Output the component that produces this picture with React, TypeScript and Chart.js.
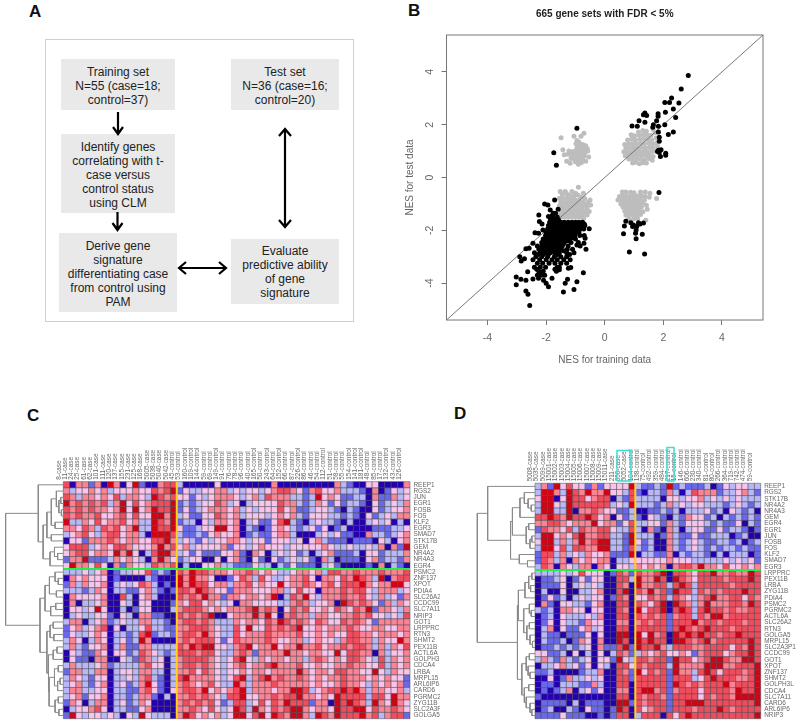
import React, { useEffect, useRef } from "react";
import Chart from "chart.js/auto";

const FONT = "'Liberation Sans', Arial, sans-serif";

// ---- Panel B data
const xTickValues = [-4, -2, 0, 2, 4];
const yTickValues = [-4, -2, 0, 2, 4];
const diagonal = [[-5.4, -5.4], [5.4, 5.4]];
const blackOutliers = [
  [2.85,3.87],[2.61,3.35],[2.28,3.01],[2.05,2.84],[2.21,2.84],[2.53,2.82],[2.34,2.6],[2.07,2.47],[2.42,2.27],
  [1.37,2.44],[1.32,2.38],[1.43,2.35],[1.82,2.42],[1.82,2.32],[1.17,2.15],[1.37,2.09],[1.77,2.15],[0.93,1.95],
  [1.11,1.94],[1.66,2.0],[1.64,1.9],[1.83,1.94],[2.05,2.0],[1.83,1.72],[2.34,1.72],[2.17,1.63],[1.86,1.53],
  [1.86,1.37],[1.92,1.05],[1.83,1.03],[1.86,0.95],[2.08,0.92],[2.08,0.84],[1.9,0.8],[1.8,0.99],
  [-0.95,1.87],[-1.74,0.94],[-1.65,0.46],
  [1.85,-0.57],[0.72,-1.66],[0.89,-1.71],[0.98,-1.8],[1.15,-1.71],[1.32,-1.72],[0.67,-1.84],[0.95,-1.86],[1.09,-1.86],
  [1.2,-1.76],[1.07,-1.99],[1.05,-2.11],[0.64,-2.13],[1.28,-2.15],[1.07,-2.32],[0.84,-2.82],[1.36,-2.9],
  [-2.56,-4.85],[-2.62,-4.42],[-2.69,-4.3],[-3.02,-4.06],[-3.02,-3.77],[-2.86,-3.86],[-2.69,-3.89],[-2.63,-3.57],
  [-2.9,-3.0],[-2.85,-3.16],[-2.74,-3.08],[-2.69,-2.7],[-2.58,-2.68],[-2.45,-2.49],[-2.38,-2.09],[-2.26,-2.11],
  [-2.23,-1.67],[-2.14,-1.76],[-2.25,-1.42],[-2.05,-1.0],[-1.94,-1.04],[-1.71,-0.85],[-1.86,-1.23],[-1.75,-1.35],
  [-1.59,-1.2],[-1.92,-1.48],[-2.11,-1.99],[-2.45,-3.85],[-2.26,-3.82],[-2.09,-3.89],[-1.92,-4.14],[-2.0,-4.01],
  [-1.8,-3.82],[-1.41,-4.34],[-1.05,-4.24],[-1.35,-4.01],[-1.27,-3.86],[-0.95,-3.95],[-0.73,-3.61],[-1.24,-3.44],
  [-1.16,-3.41],[-0.64,-2.72],[-0.71,-2.49],[-0.67,-2.3],[-0.84,-2.6],[-0.95,-2.56],[-0.53,-1.94],
];
const blackCloud = [
  [-1.75,-1.55],[-1.62,-1.5],[-1.78,-1.42],[-1.68,-1.35],[-1.85,-1.6],[-1.7,-1.6],[-1.58,-1.6],[-1.82,-1.5],
  [-1.88,-1.7],[-1.75,-1.7],[-1.62,-1.7],[-1.5,-1.7],[-1.38,-1.7],[-1.25,-1.7],[-1.12,-1.7],[-1.0,-1.7],[-0.88,-1.7],[-0.76,-1.7],
  [-1.82,-1.76],[-1.69,-1.76],[-1.56,-1.76],[-1.44,-1.76],[-1.31,-1.76],[-1.18,-1.76],[-1.06,-1.76],[-0.94,-1.76],[-0.82,-1.76],[-0.7,-1.76],
  [-1.92,-1.82],[-1.8,-1.82],[-1.67,-1.82],[-1.55,-1.82],[-1.42,-1.82],[-1.3,-1.82],[-1.17,-1.82],[-1.05,-1.82],[-0.92,-1.82],[-0.8,-1.82],[-0.68,-1.82],
  [-1.86,-1.89],[-1.73,-1.89],[-1.61,-1.89],[-1.49,-1.89],[-1.36,-1.89],[-1.24,-1.89],[-1.11,-1.89],[-0.99,-1.89],[-0.86,-1.89],[-0.74,-1.89],
  [-1.95,-1.95],[-1.82,-1.95],[-1.7,-1.95],[-1.58,-1.95],[-1.45,-1.95],[-1.32,-1.95],[-1.2,-1.95],[-1.08,-1.95],[-0.95,-1.95],[-0.83,-1.95],[-0.72,-1.95],
  [-1.9,-2.02],[-1.77,-2.02],[-1.65,-2.02],[-1.52,-2.02],[-1.39,-2.02],[-1.26,-2.02],[-1.14,-2.02],[-1.01,-2.02],[-0.89,-2.02],
  [-2.0,-2.08],[-1.88,-2.08],[-1.75,-2.08],[-1.62,-2.08],[-1.5,-2.08],[-1.38,-2.08],[-1.25,-2.08],[-1.12,-2.08],[-1.0,-2.08],[-0.88,-2.08],
  [-1.95,-2.14],[-1.83,-2.14],[-1.7,-2.14],[-1.58,-2.14],[-1.45,-2.14],[-1.33,-2.14],[-1.2,-2.14],[-1.07,-2.14],
  [-2.02,-2.2],[-1.9,-2.2],[-1.78,-2.2],[-1.65,-2.2],[-1.52,-2.2],[-1.4,-2.2],[-1.28,-2.2],[-1.15,-2.2],[-1.02,-2.2],[-0.85,-2.2],[-0.7,-2.2],
  [-1.96,-2.27],[-1.84,-2.27],[-1.71,-2.27],[-1.59,-2.27],[-1.46,-2.27],[-1.33,-2.27],[-1.1,-2.27],
  [-2.1,-2.33],[-1.98,-2.33],[-1.85,-2.33],[-1.72,-2.33],[-1.6,-2.33],[-1.48,-2.33],[-1.35,-2.33],[-1.2,-2.33],[-1.0,-2.33],
  [-2.04,-2.4],[-1.92,-2.4],[-1.8,-2.4],[-1.67,-2.4],[-1.54,-2.4],[-1.42,-2.4],[-1.28,-2.4],
  [-2.15,-2.46],[-2.02,-2.46],[-1.9,-2.46],[-1.78,-2.46],[-1.65,-2.46],[-1.52,-2.46],[-1.38,-2.46],[-1.15,-2.46],[-0.9,-2.46],
  [-2.08,-2.53],[-1.95,-2.53],[-1.83,-2.53],[-1.7,-2.53],[-1.56,-2.53],[-1.42,-2.53],
  [-2.3,-2.6],[-2.15,-2.6],[-2.0,-2.6],[-1.88,-2.6],[-1.75,-2.6],[-1.6,-2.6],[-1.45,-2.6],[-1.25,-2.6],
  [-2.25,-2.72],[-2.1,-2.72],[-1.95,-2.72],[-1.8,-2.72],[-1.65,-2.72],[-1.5,-2.72],[-1.28,-2.72],[-1.1,-2.72],
  [-2.18,-2.78],[-2.02,-2.78],[-1.88,-2.78],[-1.72,-2.78],[-1.58,-2.78],[-1.4,-2.78],
  [-2.4,-2.85],[-2.2,-2.85],[-2.05,-2.85],[-1.85,-2.85],[-1.7,-2.85],[-1.55,-2.85],[-1.3,-2.85],[-1.05,-2.85],
  [-2.28,-2.92],[-2.1,-2.92],[-1.92,-2.92],[-1.62,-2.92],[-1.2,-2.92],
  [-2.35,-3.0],[-2.15,-3.0],[-1.95,-3.0],[-1.72,-3.0],[-1.5,-3.0],[-1.3,-3.0],
  [-2.45,-3.12],[-2.22,-3.12],[-2.0,-3.12],[-1.8,-3.12],[-1.62,-3.12],[-1.4,-3.12],[-1.18,-3.12],
  [-2.3,-3.25],[-2.12,-3.25],[-1.9,-3.25],[-1.7,-3.25],[-1.5,-3.25],[-1.3,-3.25],
  [-2.4,-3.4],[-2.2,-3.4],[-2.02,-3.4],[-1.62,-3.4],[-1.55,-3.4],[-2.32,-3.48],[-1.7,-3.48],
  [-2.25,-3.55],[-2.1,-3.55],[-1.65,-3.55],[-1.55,-3.5],[-2.3,-3.7],[-2.15,-3.7],[-2.05,-3.7],[-2.2,-3.62],
];
const grayLowerLeft = [
  [-0.9,-0.37],[-1.52,-0.53],[-1.35,-0.53],[-1.12,-0.53],[-1.0,-0.6],[-0.73,-0.6],[-0.5,-0.85],[-0.48,-1.04],[-0.53,-1.29],[-0.6,-1.42],
  [-1.45,-0.65],[-1.3,-0.62],[-1.18,-0.68],[-1.05,-0.72],[-0.92,-0.66],[-0.82,-0.75],[-0.68,-0.8],[-0.58,-0.95],
  [-1.55,-0.8],[-1.42,-0.8],[-1.28,-0.78],[-1.15,-0.84],[-1.02,-0.85],[-0.88,-0.86],[-0.75,-0.92],[-0.65,-1.05],
  [-1.5,-0.95],[-1.38,-0.94],[-1.25,-0.93],[-1.12,-0.98],[-0.98,-0.98],[-0.85,-1.0],[-0.72,-1.05],[-0.6,-1.15],
  [-1.55,-1.08],[-1.42,-1.08],[-1.3,-1.07],[-1.18,-1.1],[-1.05,-1.1],[-0.92,-1.12],[-0.78,-1.15],[-0.66,-1.25],
  [-1.48,-1.22],[-1.35,-1.2],[-1.22,-1.23],[-1.1,-1.24],[-0.97,-1.25],[-0.85,-1.25],[-0.72,-1.3],[-0.62,-1.35],
  [-1.5,-1.36],[-1.38,-1.35],[-1.25,-1.37],[-1.12,-1.37],[-1.0,-1.38],[-0.88,-1.38],[-0.76,-1.42],
  [-1.45,-1.5],[-1.32,-1.5],[-1.2,-1.5],[-1.07,-1.5],[-0.95,-1.5],[-0.82,-1.5],[-0.72,-1.55],
];
const grayTopLeft = [
  [-1.49,1.51],[-1.05,1.56],[-0.71,1.68],[-0.81,1.56],[-1.43,1.05],[-1.38,0.86],[-1.18,0.54],[-1.3,0.62],[-0.95,1.4],[-0.88,1.35],
  [-0.98,1.28],[-0.88,1.22],[-0.75,1.25],[-0.65,1.2],[-0.6,1.1],[-0.95,1.12],[-0.8,1.12],[-0.7,1.08],[-1.22,1.0],[-1.1,0.98],[-1.0,1.0],
  [-0.9,1.0],[-0.8,1.0],[-0.68,0.95],[-0.58,1.0],[-1.25,0.88],[-1.12,0.86],[-1.02,0.88],[-0.92,0.86],[-0.8,0.88],[-0.7,0.82],[-0.55,0.78],
  [-1.15,0.72],[-1.05,0.72],[-0.95,0.74],[-0.85,0.75],[-0.75,0.68],[-1.0,0.6],[-0.9,0.62],[-0.8,0.56],[-0.9,0.5],[-0.65,0.62],
];
const grayTopRight = [
  [1.15,1.72],[1.3,1.78],[1.42,1.75],[1.65,1.82],
  [0.9,1.62],[1.02,1.58],[1.18,1.6],[1.32,1.62],[1.45,1.6],[1.58,1.6],[1.72,1.7],
  [0.78,1.42],[0.92,1.45],[1.05,1.42],[1.2,1.45],[1.33,1.45],[1.47,1.45],[1.6,1.42],[1.75,1.5],
  [0.68,1.25],[0.82,1.28],[0.95,1.28],[1.08,1.27],[1.22,1.3],[1.35,1.28],[1.5,1.3],[1.63,1.28],[1.76,1.3],
  [0.72,1.12],[0.85,1.13],[0.98,1.12],[1.12,1.12],[1.25,1.14],[1.38,1.12],[1.52,1.14],[1.65,1.12],[1.8,1.18],
  [0.65,0.98],[0.78,0.98],[0.92,0.97],[1.05,0.98],[1.18,0.98],[1.32,0.97],[1.45,0.98],[1.6,0.98],[1.72,1.0],
  [0.7,0.82],[0.84,0.84],[0.98,0.84],[1.1,0.83],[1.25,0.84],[1.38,0.83],[1.5,0.85],[1.65,0.8],
  [0.82,0.7],[0.95,0.7],[1.08,0.68],[1.22,0.7],[1.35,0.66],[1.5,0.72],[1.62,0.65],
  [0.95,0.55],[1.05,0.58],[1.18,0.52],[1.3,0.56],[1.42,0.55],
];
const grayLowerRight = [
  [0.6,-0.55],[0.72,-0.55],[0.88,-0.56],[1.0,-0.58],[1.22,-0.55],[1.38,-0.55],[1.54,-0.6],
  [0.5,-0.72],[0.62,-0.7],[0.75,-0.7],[0.88,-0.72],[1.0,-0.72],[1.12,-0.7],[1.25,-0.7],[1.38,-0.72],[1.52,-0.75],[1.77,-0.8],
  [0.45,-0.85],[0.58,-0.85],[0.7,-0.85],[0.83,-0.86],[0.97,-0.86],[1.1,-0.86],[1.22,-0.85],[1.35,-0.86],
  [0.55,-1.0],[0.68,-0.98],[0.8,-1.0],[0.92,-1.0],[1.05,-1.0],[1.18,-1.0],[1.3,-0.98],[1.42,-1.05],
  [0.62,-1.12],[0.75,-1.14],[0.88,-1.14],[1.0,-1.14],[1.12,-1.14],[1.25,-1.12],[1.45,-1.2],
  [0.68,-1.27],[0.8,-1.28],[0.92,-1.28],[1.05,-1.28],[1.18,-1.26],[1.3,-1.3],
  [0.72,-1.42],[0.85,-1.42],[0.98,-1.42],[1.1,-1.42],[1.22,-1.4],[1.0,-1.55],[0.82,-1.55],[1.12,-1.55],[1.4,-1.62],[0.9,-1.62],
];

// ---- Heatmap palette: 0 navy ... 6 dark red
const palette = ["#2400b0", "#6a68ea", "#b8b8f6", "#f8c4ea", "#fb8494", "#f04c5c", "#d00414"];

// ---- Panel C data
const colsC = ["8-case","11-case","24-case","25-case","61-case","62-case","101-case","111-case","120-case","137-case","155-case","231-case","125-case","168-case","5005-case","5038-case","5040-case","5042-case",
  "45-control","53-control","160-control","109-control","144-control","59-control","69-control","149-control","91-control","76-control","78-control","96-control","40-control","165-control","50-control","243-control","64-control","152-control","66-control","87-control","226-control","86-control","46-control","54-control","112-control","51-control","58-control","55-control","154-control","141-control","181-control","48-control","85-control","17-control","132-control","43-control","126-control"];
const genesC = ["REEP1","RGS2","JUN","EGR1","FOSB","FOS","KLF2","EGR3","SMAD7","STK17B","GEM","NR4A2","NR4A3","EGR4","PSMC2","ZNF137","XPOT","PDIA4","SLC26A2","CCDC99","SLC7A11","NRIP3","GOT1","LRPPRC","RTN3","SHMT2","PEX11B","ACTL6A","GOLPH3L","CDCA4","LRBA","MRPL15","ARL6IP6","CARD6","PGRMC2","ZYG11B","SLC2A3P1","GOLGA5"];
const cellsC = [
  "504414064036100455"+"2000003"+"000000004000000000421003300004",
  "423343423334335456"+"1322334"+"423233234554314533422210401323",
  "542443435244326545"+"3313234"+"443234254442212634311220411423",
  "645454524635345556"+"1212335"+"423023333544212431312210312324",
  "545454434636346556"+"1312344"+"434232333534112332102100312334",
  "545445334535336646"+"2311335"+"434233323434213332212103123244",
  "622435344534226546"+"1220324"+"434023113562102322102002323020",
  "443542545346226556"+"3112336"+"634021013432123130120000111223",
  "234532455344206665"+"2112134"+"334012113442000232311004221234",
  "033144454344335564"+"2321323"+"344323313332303421110111032034",
  "355523435543334645"+"3423333"+"413323433323333343223223240416",
  "345534436463025664"+"2313111"+"334104302323120234111203312224",
  "144611124343204643"+"1233003"+"034103103123231042011103412214",
  "364435304143325445"+"0200334"+"221113220213111023100001040210",
  "222323401223351210"+"5465544"+"434454343223443425544544454445",
  "043433301000021000"+"6464430"+"013542532234453044354654260455",
  "142433402323542010"+"6465534"+"424453433634454345355564344663",
  "222124302211342101"+"5546543"+"314443334423533044454553244423",
  "043333400520342000"+"5454644"+"144344346025463244454453242314",
  "040223400320330001"+"4355343"+"230443333224542334065454314243",
  "033236300201330002"+"4555434"+"344456454035453343543546144324",
  "023223310320441100"+"5454560"+"034446463045442443344545332325",
  "244023412322442210"+"4554542"+"224344354654543543354543144444",
  "134234503022352211"+"4455543"+"225363354545633434445433443344",
  "132234302212561221"+"4554643"+"225344454444533434335544344434",
  "243024302312640000"+"4545553"+"135444454334423433245544243364",
  "242133402411442222"+"5465663"+"324563446344644534454554242435",
  "032114303312543212"+"5554553"+"224541444464434433635544042334",
  "031104400321542302"+"4555543"+"235632434434424543435543252434",
  "242223412222453302"+"4554543"+"234534456444533433445443352434",
  "144224402332442202"+"4453543"+"233434434444643443554433632433",
  "243213302232452102"+"5644443"+"235624564544543434454443434331",
  "234213402312463102"+"4543453"+"226424445444443433454432434341",
  "244223302211453103"+"4554634"+"345624443446652345565642443342",
  "234133402212441020"+"4454543"+"255633445455644343655552553644",
  "143024402312430000"+"4545453"+"125523535465551440656542643643",
  "023345302211340000"+"4454353"+"236526435456643443655663544543",
  "163233232032632220"+"4653434"+"236635636546642654655564524551",
];

// ---- Panel D data
const colsD = ["5008-case","5035-case","5099-case","15001-case","15002-case","15003-case","15004-case","15005-case","15006-case","15007-case","15008-case","15009-case","15011-case","211-case","650-case","5052-case",
  "104-control","138-control","75-control","492-control","359-control","484-control","217-control","15-control","146-control","606-control","230-control","340-control","81-control","80-control","266-control","364-control","719-control","742-control","474-control","59-control"];
const genesD = ["REEP1","RGS2","STK17B","NR4A2","NR4A3","GEM","EGR4","EGR1","JUN","FOSB","FOS","KLF2","SMAD7","EGR3","LRPPRC","PEX11B","LRBA","ZYG11B","PDIA4","PSMC2","PGRMC2","ACTL6A","SLC26A2","RTN3","GOLGA5","MRPL15","SLC2A3P1","CCDC99","GOT1","XPOT","ZNF137","SHMT2","GOLPH3L","CDCA4","SLC7A11","CARD6","ARL6IP6","NRIP3"];
const cellsD = [
  "241635331413"+"3336"+"21121612111201323322",
  "266426546446"+"3325"+"10221420254441223421",
  "366036553455"+"0215"+"22220332334232323222",
  "266326555555"+"2326"+"22212423233222123212",
  "266226044543"+"3112"+"00112120222312032120",
  "556546556534"+"0312"+"10321021433120212121",
  "445543444634"+"4135"+"22331421333212113021",
  "154435254455"+"3225"+"20410420233113122101",
  "266343564455"+"2216"+"22201421131122201200",
  "366242464566"+"2216"+"31200421232112212012",
  "266352554466"+"2215"+"21200421232121221211",
  "155242324334"+"1116"+"02211402122102022201",
  "154240434344"+"0223"+"33333433322222323231",
  "254043244043"+"0332"+"43434045546443533434",
  "222232353330"+"1541"+"54456055435564454465",
  "011230131330"+"0552"+"64465065435555455565",
  "011130232320"+"0540"+"64455256525555545555",
  "020030022340"+"0560"+"54645165525454555655",
  "013120232330"+"1540"+"33545254324564455354",
  "041033221340"+"0550"+"54356065424644455465",
  "212044330330"+"0540"+"63556056525655454455",
  "012032223240"+"0550"+"54545145525466455555",
  "013032214330"+"0440"+"45455155564554555455",
  "024031134230"+"0550"+"55555156545655545555",
  "021101113030"+"0660"+"63645065656554556555",
  "021120143040"+"0650"+"65655066545645555565",
  "011212123041"+"1561"+"65564255544555535465",
  "331120302030"+"2541"+"24345334314555345565",
  "242142123033"+"1632"+"55455165534566544665",
  "022342313032"+"0553"+"54555264444666445556",
  "112000012240"+"0541"+"63545164425653555456",
  "003014223230"+"0551"+"55555155523565554456",
  "011022211420"+"0550"+"55555165454555645556",
  "010124023130"+"0440"+"56645145553555546556",
  "100000000000"+"0550"+"54554155553545546666",
  "011110201110"+"0661"+"54555155666555555556",
  "012002103110"+"1650"+"53455155545556545555",
  "111131110010"+"1550"+"25550535655555555556",
];

// ---- Dendrograms: nested [height, upper, lower]; L is a leaf, leaves follow row order
const L = 0;
const treeC = [9.15,
  [3.97, L, [3.2,
    [2.6, [1.9, [1.1, L, [0.7, [0.4, L, L], [0.3, L, L]]], [1.3, L, L]], [1.9, L, L]],
    [2.1, [1.4, L, [0.9, L, L]], L]]],
  [3.7,
    [2.9, [2.2, [1.3, L, [0.8, L, L]], [1.1, L, L]], [2.0, [1.2, L, L], L]],
    [2.6, [2.1, [1.6, L, L], [1.5, L, L]],
      [2.35, [1.6, [1.0, L, L], L],
        [2.25, [1.4, [0.8, L, L], [0.9, [0.5, L, L], L]], [1.3, [0.8, L, L], [0.7, L, L]]]]]]];
const treeD = [9.2,
  [7.55, L, [3.9,
    [3.6, [2.4, [1.7, L, [1.1, L, [0.6, L, L]]], L], [1.4, [1.0, L, L], [0.8, [0.5, L, L], L]]],
    [2.5, L, [1.2, L, L]]]],
  [2.8,
    [2.65, [1.6, [1.0, [0.5, L, L], [0.7, L, L]], L],
      [1.8, [0.9, L, [0.6, L, L]], [1.3, [0.9, L, L], [0.8, L, [0.4, L, L]]]]],
    [2.1, [1.4, [0.9, L, L], [1.1, L, [0.8, L, L]]],
      [1.7, [1.0, L, L], [1.4, L, [0.8, L, [0.5, L, L]]]]]]];

// ---- Cyan highlight boxes on D, in column / row units
const highlightD = [
  [[12.58, -0.87], [12.58, -5.8], [14.8, -5.8], [14.8, -0.87], [12.58, -0.87]],
  [[20.55, -0.87], [20.55, -6.3], [21.67, -6.3], [21.67, -0.87], [20.55, -0.87]],
];

// ---- Panel A text
const flowBoxes = [
  { left: 61, top: 59, w: 114, h: 51, textTop: 65, lines: ["Training set", "N=55 (case=18;", "control=37)"] },
  { left: 231, top: 59, w: 108, h: 51, textTop: 65, lines: ["Test set", "N=36 (case=16;", "control=20)"] },
  { left: 61, top: 134, w: 114, h: 79, textTop: 140, lines: ["Identify genes", "correlating with t-", "case versus", "control status", "using CLM"] },
  { left: 59, top: 233, w: 118, h: 79, textTop: 239, lines: ["Derive gene", "signature", "differentiating case", "from control using", "PAM"] },
  { left: 231, top: 239, w: 108, h: 65, textTop: 244, lines: ["Evaluate", "predictive ability", "of gene", "signature"] },
];
const panelLetters = [
  { t: "A", left: 29, top: 3 },
  { t: "B", left: 408, top: 2 },
  { t: "C", left: 27, top: 407 },
  { t: "D", left: 454, top: 405 },
];

const toXY = (p: number[][]) => p.map(([x, y]) => ({ x, y }));

function dendroPath(tree: any) {
  const pts: { x: number; y: number }[] = [];
  let leaf = 0;
  const px = (h: number) => -0.5 - h;
  const walk = (n: any): { y: number; h: number } => {
    if (n === L) return { y: leaf++, h: 0 };
    const [h, a, b] = n;
    const A = walk(a);
    const B = walk(b);
    pts.push({ x: px(A.h), y: A.y }, { x: px(h), y: A.y }, { x: px(h), y: B.y }, { x: px(B.h), y: B.y }, { x: NaN, y: NaN });
    return { y: (A.y + B.y) / 2, h };
  };
  walk(tree);
  return pts;
}

function heatmapConfig(o: {
  cols: string[]; genes: string[]; cells: string[]; tree: any; splitCol: number; splitRow: number;
  left: number; top: number; bottom: number; axisRight: number; radius: number; boxes?: number[][][];
}) {
  const { cols, genes, cells } = o;
  const pts: { x: number; y: number }[] = [];
  const colors: string[] = [];
  cells.forEach((r, y) => [...r].forEach((c, x) => { pts.push({ x, y }); colors.push(palette[+c]); }));
  const lineSet = (data: any[], color: string, width: number, order: number) => ({
    type: "scatter", showLine: true, data, borderColor: color, borderWidth: width, pointRadius: 0,
    clip: false as const, order, spanGaps: false, tension: 0,
  });
  const datasets: any[] = [
    { data: pts, pointStyle: "rect", pointRadius: o.radius, pointBackgroundColor: colors,
      pointBorderColor: "rgba(70,70,80,0.7)", pointBorderWidth: 0.7, order: 5, clip: false },
    lineSet(dendroPath(o.tree), "#8a8a8a", 1, 4),
    lineSet([{ x: o.splitCol, y: -0.5 }, { x: o.splitCol, y: genes.length - 0.5 }], "#ffd21e", 2, 2),
    lineSet([{ x: -0.5, y: o.splitRow }, { x: cols.length - 0.5, y: o.splitRow }], "#22ee44", 2, 1),
  ];
  (o.boxes || []).forEach((b) => datasets.push(lineSet(toXY(b), "#3fdcd6", 1.5, 0)));
  return {
    type: "scatter",
    data: { datasets },
    options: {
      responsive: false, animation: false,
      layout: { padding: { left: o.left, top: 0, right: 0, bottom: o.bottom } },
      plugins: { legend: { display: false }, tooltip: { enabled: false } },
      scales: {
        x: {
          type: "linear", position: "top", min: -0.5, max: cols.length - 0.5,
          grid: { display: false, drawTicks: false }, border: { display: false },
          afterBuildTicks: (s: any) => { s.ticks = cols.map((_, i) => ({ value: i })); },
          afterFit: (s: any) => { s.height = o.top; },
          ticks: { autoSkip: false, minRotation: 90, maxRotation: 90, padding: 2, color: "#666",
            font: { family: FONT, size: 6.4 }, callback: (v: number) => cols[v] },
        },
        y: {
          type: "linear", position: "right", reverse: true, min: -0.5, max: genes.length - 0.5,
          grid: { display: false, drawTicks: false }, border: { display: false },
          afterBuildTicks: (s: any) => { s.ticks = genes.map((_, i) => ({ value: i })); },
          afterFit: (s: any) => { s.width = o.axisRight; },
          ticks: { autoSkip: false, padding: 3.5, color: "#666",
            font: { family: FONT, size: 6.4 }, callback: (v: number) => genes[v] },
        },
      },
    },
  };
}

const scatterFrame = {
  id: "scatterFrame",
  afterDraw(c: any) {
    const { ctx, chartArea: a, scales } = c;
    ctx.save();
    ctx.strokeStyle = "#777";
    ctx.lineWidth = 1;
    ctx.strokeRect(a.left, a.top, a.right - a.left, a.bottom - a.top);
    ctx.fillStyle = "#666";
    ctx.font = `10.5px ${FONT}`;
    ctx.textAlign = "center";
    ctx.textBaseline = "middle";
    yTickValues.forEach((v) => {
      ctx.save();
      ctx.translate(a.left - 16, scales.y.getPixelForValue(v));
      ctx.rotate(-Math.PI / 2);
      ctx.fillText(String(v), 0, 0);
      ctx.restore();
    });
    ctx.restore();
  },
};

function scatterConfig() {
  const pointSet = (d: number[][], color: string, order: number) => ({
    data: toXY(d), backgroundColor: color, borderColor: color, pointRadius: 2.5, pointBorderWidth: 0, order,
  });
  return {
    type: "scatter",
    plugins: [scatterFrame],
    data: {
      datasets: [
        pointSet([...grayLowerLeft, ...grayTopLeft, ...grayTopRight, ...grayLowerRight], "#bdbdbd", 3),
        { data: toXY(diagonal), showLine: true, borderColor: "#777", borderWidth: 1, pointRadius: 0, order: 2 },
        pointSet([...blackOutliers, ...blackCloud], "#000", 1),
      ],
    },
    options: {
      responsive: false, animation: false,
      layout: { padding: { left: 0, top: 0, right: 37, bottom: 0 } },
      plugins: {
        legend: { display: false }, tooltip: { enabled: false },
        title: { display: true, text: "665 gene sets with FDR < 5%", color: "#222", fullSize: false,
          font: { family: FONT, size: 10, weight: "bold" }, padding: { top: 8, bottom: 15 } },
      },
      scales: {
        x: {
          type: "linear", min: -5.4, max: 5.4,
          afterBuildTicks: (s: any) => { s.ticks = xTickValues.map((value) => ({ value })); },
          afterFit: (s: any) => { s.height = 55; },
          grid: { drawOnChartArea: false, tickLength: 5, color: "#777" }, border: { display: false },
          ticks: { color: "#666", padding: 7, font: { family: FONT, size: 10.5 } },
          title: { display: true, text: "NES for training data", color: "#666", font: { family: FONT, size: 10 }, padding: { top: 0, bottom: 9 } },
        },
        y: {
          type: "linear", min: -5.4, max: 5.4,
          afterBuildTicks: (s: any) => { s.ticks = yTickValues.map((value) => ({ value })); },
          afterFit: (s: any) => { s.width = 66.5; },
          grid: { drawOnChartArea: false, tickLength: 5, color: "#777" }, border: { display: false },
          ticks: { callback: () => "" },
          title: { display: true, text: "NES for test data", color: "#666", font: { family: FONT, size: 10 }, padding: { top: 24, bottom: 0 } },
        },
      },
    },
  };
}

const useChart = (make: () => any) => {
  const ref = useRef<HTMLCanvasElement>(null);
  useEffect(() => {
    const chart = new Chart(ref.current as any, make());
    return () => chart.destroy();
  }, []);
  return ref;
};

const Arrow = ({ d }: { d: string }) => (
  <path d={d} fill="none" stroke="#000" strokeWidth={2.2} />
);

export default function App() {
  const bRef = useChart(scatterConfig);
  const cRef = useChart(() => heatmapConfig({ cols: colsC, genes: genesC, cells: cellsC, tree: treeC, splitCol: 17.5, splitRow: 13.5,
    left: 63.3, top: 81.7, bottom: 5, axisRight: 30, radius: 4.455 }));
  const dRef = useChart(() => heatmapConfig({ cols: colsD, genes: genesD, cells: cellsD, tree: treeD, splitCol: 15.5, splitRow: 13.5,
    left: 95, top: 83.3, bottom: 5, axisRight: 39.3, radius: 4.43, boxes: highlightD }));
  const abs = (l: number, t: number): React.CSSProperties => ({ position: "absolute", left: l, top: t });
  return (
    <div style={{ position: "absolute", left: 0, top: 0, width: 800, height: 726, background: "#fff", overflow: "hidden", fontFamily: FONT }}>
      <div style={{ ...abs(45, 39), width: 309, height: 283, border: "1.5px solid #cfcfcf", boxSizing: "border-box" }} />
      {flowBoxes.map((b) => (
        <div key={b.lines[0]} style={{ ...abs(b.left, b.top), width: b.w, height: b.h, background: "#e9e9e9" }}>
          <div style={{ position: "absolute", top: b.textTop - b.top, left: -10, right: -10, textAlign: "center", fontSize: 12, lineHeight: "14px", color: "#222" }}>
            {b.lines.map((l) => <div key={l}>{l}</div>)}
          </div>
        </div>
      ))}
      <svg width={380} height={340} style={abs(0, 0)}>
        <Arrow d="M118 112V133M113 127L118 134L123 127" />
        <Arrow d="M117.5 212V229M112.5 223L117.5 230L122.5 223" />
        <Arrow d="M285 130V227M279 136L285 129L291 136M279 220L285 227L291 220" />
        <Arrow d="M179 268H226M186 262L179 268L186 274M219 262L226 268L219 274" />
      </svg>
      {panelLetters.map((p) => (
        <div key={p.t} style={{ ...abs(p.left, p.top), fontSize: 17, fontWeight: "bold", color: "#111", lineHeight: "18px" }}>{p.t}</div>
      ))}
      <canvas ref={bRef} width={420} height={375} style={{ ...abs(380, 0), display: "block" }} />
      <canvas ref={cRef} width={440} height={326} style={{ ...abs(0, 400), display: "block" }} />
      <canvas ref={dRef} width={360} height={326} style={{ ...abs(440, 400), display: "block" }} />
    </div>
  );
}
